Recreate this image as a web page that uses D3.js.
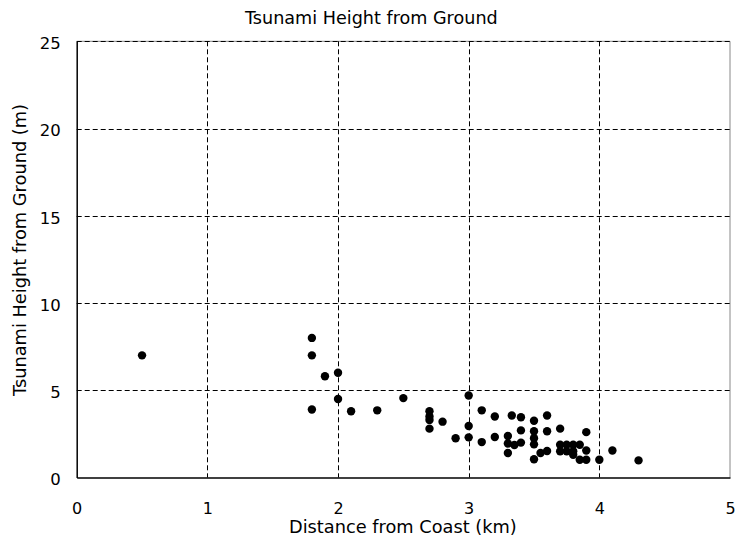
<!DOCTYPE html>
<html><head><meta charset="utf-8">
<script src="https://cdn.jsdelivr.net/npm/d3@7"></script>
<style>body{margin:0;background:#fff}svg{display:block}text{font-family:"DejaVu Sans",sans-serif;fill:#000}</style>
</head><body>
<svg id="c" width="735" height="542"></svg>
<script>
const distances = [0.5,1.8,1.8,1.8,1.9,2.0,2.0,2.1,2.3,2.5,2.7,2.7,2.7,2.7,2.8,2.9,3.0,3.0,3.0,3.1,3.1,3.2,3.2,3.3,3.3,3.3,3.33,3.35,3.4,3.4,3.4,3.5,3.5,3.5,3.5,3.5,3.55,3.6,3.6,3.6,3.7,3.7,3.75,3.8,3.85,3.7,3.75,3.8,3.8,3.85,3.9,3.9,3.9,4.0,4.1,4.3];
const heights   = [7.0,8.0,7.0,3.9,5.8,6.0,4.5,3.8,3.85,4.55,3.8,3.5,3.3,2.8,3.2,2.25,4.7,2.95,2.3,3.85,2.03,3.5,2.32,2.38,1.95,1.4,3.55,1.86,3.45,2.7,2.0,3.25,2.65,2.25,1.9,1.05,1.4,3.55,2.65,1.52,2.8,1.88,1.88,1.88,1.88,1.5,1.5,1.5,1.3,1.02,1.02,2.6,1.55,1.02,1.55,0.98];
const xTicks = [0,1,2,3,4,5];
const yTicks = [0,5,10,15,20,25];
const titleText = "Tsunami Height from Ground";
const xTitle = "Distance from Coast (km)";
const yTitle = "Tsunami Height from Ground (m)";

const svg = d3.select("#c");
const L=76.7, R=730, T=41.3, B=477.5;
const x = d3.scaleLinear().domain([0,5]).range([L,R]);
const y = d3.scaleLinear().domain([0,25]).range([B,T]);

// fit a text's font size so that a given string measures a target width
function fitSize(str, target){
  const t = svg.append("text").style("font-size","20px").text(str);
  const w = t.node().getComputedTextLength();
  t.remove();
  return 20*target/w;
}

// border top/right
svg.append("path").attr("d",`M${L},${T}H${R}V${B}`).attr("fill","none").attr("stroke","#888").attr("stroke-width",1);

// grid
const g = svg.append("g");
g.selectAll(".gx").data(xTicks.filter(d=>d>0&&d<5)).join("line")
  .attr("x1",d=>Math.round(x(d))+0.5).attr("x2",d=>Math.round(x(d))+0.5).attr("y1",T).attr("y2",B)
  .attr("stroke","#000").attr("stroke-dasharray","5,3");
g.selectAll(".gy").data(yTicks.filter(d=>d>0)).join("line")
  .attr("y1",d=>Math.round(y(d))+0.5).attr("y2",d=>Math.round(y(d))+0.5).attr("x1",L).attr("x2",R)
  .attr("stroke","#000").attr("stroke-dasharray","5,3");

// axes
const xa = svg.append("g").attr("transform",`translate(0,${B})`)
  .call(d3.axisBottom(x).tickValues(xTicks).tickSize(0).tickPadding(0).tickFormat(d3.format("d")));
xa.select(".domain").attr("stroke","#000").attr("stroke-width",1.5);
xa.selectAll("text").attr("dy",null).attr("y",36).style("font-size","16px");
const ya = svg.append("g").attr("transform",`translate(${L},0)`)
  .call(d3.axisLeft(y).tickValues(yTicks).tickSize(0).tickPadding(0).tickFormat(d3.format("d")));
ya.select(".domain").attr("stroke","#000").attr("stroke-width",1.5);
ya.selectAll("text").attr("x",-16).attr("dy","0.45em").style("font-size","16.5px");

// points
svg.append("g").selectAll("circle").data(distances.map((d,i)=>[d,heights[i]])).join("circle")
  .attr("cx",d=>x(d[0])).attr("cy",d=>y(d[1])).attr("r",4.2).attr("fill","#000");

// titles
const titleSize = fitSize("Tsunami Height fr", 155);
svg.append("text").attr("x",245).attr("y",24).style("font-size",titleSize+"px").text(titleText);
const axSize = fitSize(xTitle, 228);
svg.append("text").attr("x",289).attr("y",533).style("font-size",axSize+"px").text(xTitle);
svg.append("text").attr("transform",`translate(26,396) rotate(-90)`).style("font-size",axSize+"px").text(yTitle);
</script>
</body></html>
